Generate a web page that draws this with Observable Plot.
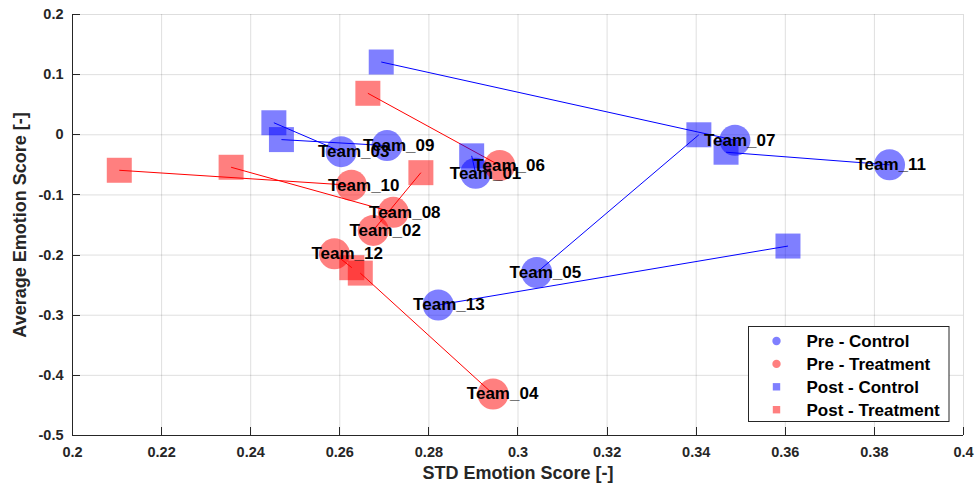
<!DOCTYPE html>
<html>
<head>
<meta charset="utf-8">
<script src="https://cdn.jsdelivr.net/npm/d3@7"></script>
<script src="https://cdn.jsdelivr.net/npm/@observablehq/plot@0.6"></script>
<style>
  html, body { margin: 0; padding: 0; background: #fff; }
  #chart { width: 977px; height: 493px; }
  #chart svg { font-family: "Liberation Sans", Arial, Helvetica, sans-serif; }
</style>
</head>
<body>
<div id="chart"></div>
<script>
// Team emotion scores before and after the session
const teams = ["Team_01", "Team_02", "Team_03", "Team_04", "Team_05", "Team_06", "Team_07",
               "Team_08", "Team_09", "Team_10", "Team_11", "Team_12", "Team_13"];
const groups = ["Control", "Treatment", "Control", "Treatment", "Control", "Treatment", "Control",
                "Treatment", "Control", "Treatment", "Control", "Treatment", "Control"];
const preStd  = [0.2905, 0.2675, 0.2603, 0.2944, 0.3042, 0.2959, 0.3487, 0.2720, 0.2706, 0.2626, 0.3834, 0.2588, 0.2821];
const preAvg  = [-0.064, -0.159, -0.028, -0.431, -0.229, -0.051, -0.009, -0.129, -0.018, -0.084, -0.050, -0.198, -0.283];
const postStd = [0.2896, 0.2782, 0.2452, 0.2646, 0.3406, 0.2663, 0.2693, 0.2356, 0.2469, 0.2105, 0.3467, 0.2627, 0.3606];
const postAvg = [-0.035, -0.063, 0.020, -0.230, 0.000, 0.069, 0.121, -0.054, -0.008, -0.059, -0.029, -0.221, -0.185];

const xTicks = [0.2, 0.22, 0.24, 0.26, 0.28, 0.3, 0.32, 0.34, 0.36, 0.38, 0.4];
const yTicks = [-0.5, -0.4, -0.3, -0.2, -0.1, 0, 0.1, 0.2];

const legendLabels = ["Pre - Control", "Pre - Treatment", "Post - Control", "Post - Treatment"];
const legendGroups = ["Control", "Treatment", "Control", "Treatment"];
const legendSymbols = ["circle", "circle", "square", "square"];

const groupColor = {Control: "#0000ff", Treatment: "#ff0000"};
const axisInk = "#262626";
const font = `"Liberation Sans", Arial, Helvetica, sans-serif`;

const rows = teams.map((team, i) => ({
  team, group: groups[i],
  preStd: preStd[i], preAvg: preAvg[i],
  postStd: postStd[i], postAvg: postAvg[i]
}));

const fmt = d => String(Math.round(d * 100) / 100);
const colorOf = d => groupColor[d.group];

const chart = Plot.plot({
  width: 977,
  height: 493,
  marginLeft: 72,
  marginRight: 14,
  marginTop: 14,
  marginBottom: 58,
  x: {domain: [0.2, 0.4]},
  y: {domain: [-0.5, 0.2]},
  color: {type: "identity"},
  style: {fontFamily: font, background: "#fff", overflow: "visible"},
  marks: [
    Plot.gridX(xTicks, {stroke: "#000", strokeOpacity: 0.13}),
    Plot.gridY(yTicks, {stroke: "#000", strokeOpacity: 0.13}),
    // pre → post connectors
    Plot.link(rows, {x1: "preStd", y1: "preAvg", x2: "postStd", y2: "postAvg",
                     stroke: colorOf, strokeWidth: 1}),
    // post markers
    Plot.dot(rows, {x: "postStd", y: "postAvg", symbol: "square", r: 14.1,
                    fill: colorOf, fillOpacity: 0.5, stroke: "none"}),
    // pre markers
    Plot.dot(rows, {x: "preStd", y: "preAvg", symbol: "circle", r: 15.5,
                    fill: colorOf, fillOpacity: 0.5, stroke: "none"}),
    // team names, placed just left of each pre marker
    Plot.text(rows, {x: d => d.preStd * 0.98, y: "preAvg", text: "team",
                     textAnchor: "start", lineAnchor: "middle",
                     fontSize: 17, fontWeight: "bold", fill: "#000"}),
    // axis lines
    Plot.ruleX([0.2], {stroke: axisInk}),
    Plot.ruleY([-0.5], {stroke: axisInk}),
    Plot.axisX(xTicks, {tickSize: 0, tickPadding: 11, tickFormat: fmt, label: null,
                        fontSize: 14.5, fontWeight: "bold", fill: axisInk}),
    Plot.axisY(yTicks, {tickSize: 0, tickPadding: 9, tickFormat: fmt, label: null,
                        fontSize: 14.5, fontWeight: "bold", fill: axisInk}),
    Plot.text(["STD Emotion Score [-]"], {frameAnchor: "bottom", dy: 43, text: d => d,
                        textAnchor: "middle", fontSize: 18, fontWeight: "bold", fill: axisInk}),
    Plot.text(["Average Emotion Score [-]"], {frameAnchor: "left", dx: -52, rotate: -90, text: d => d,
                        textAnchor: "middle", fontSize: 18, fontWeight: "bold", fill: axisInk})
  ]
});

document.getElementById("chart").append(chart);

// inward tick marks along the left and bottom axes
const sx = chart.scale("x"), sy = chart.scale("y");
const svg = d3.select(chart);
const x0 = sx.apply(0.2), y0 = sy.apply(-0.5);
const ticks = svg.append("g").attr("stroke", axisInk).attr("stroke-width", 1);
xTicks.forEach(v => {
  const x = Math.round(sx.apply(v)) + 0.5;
  ticks.append("line").attr("x1", x).attr("x2", x).attr("y1", y0).attr("y2", y0 - 8);
});
yTicks.forEach(v => {
  const y = Math.round(sy.apply(v)) + 0.5;
  ticks.append("line").attr("x1", x0).attr("x2", x0 + 8).attr("y1", y).attr("y2", y);
});

// legend box in the lower-right corner of the frame
const lg = svg.append("g").attr("transform", "translate(748.5,326.5)");
lg.append("rect").attr("width", 200.5).attr("height", 95)
  .attr("fill", "#fff").attr("stroke", axisInk).attr("stroke-width", 1);
legendLabels.forEach((label, i) => {
  const row = lg.append("g").attr("transform", `translate(0,${14.5 + i * 22.9})`);
  const c = groupColor[legendGroups[i]];
  if (legendSymbols[i] === "circle") {
    row.append("circle").attr("cx", 28).attr("cy", 0).attr("r", 4.2)
      .attr("fill", c).attr("fill-opacity", 0.5);
  } else {
    row.append("rect").attr("x", 24.3).attr("y", -3.7).attr("width", 7.4).attr("height", 7.4)
      .attr("fill", c).attr("fill-opacity", 0.5);
  }
  row.append("text").attr("x", 58).attr("y", 0).attr("dy", "0.35em")
    .attr("text-anchor", "start")
    .attr("font-size", 17).attr("font-weight", "bold").attr("fill", "#000")
    .attr("font-family", font).text(label);
});
</script>
</body>
</html>
